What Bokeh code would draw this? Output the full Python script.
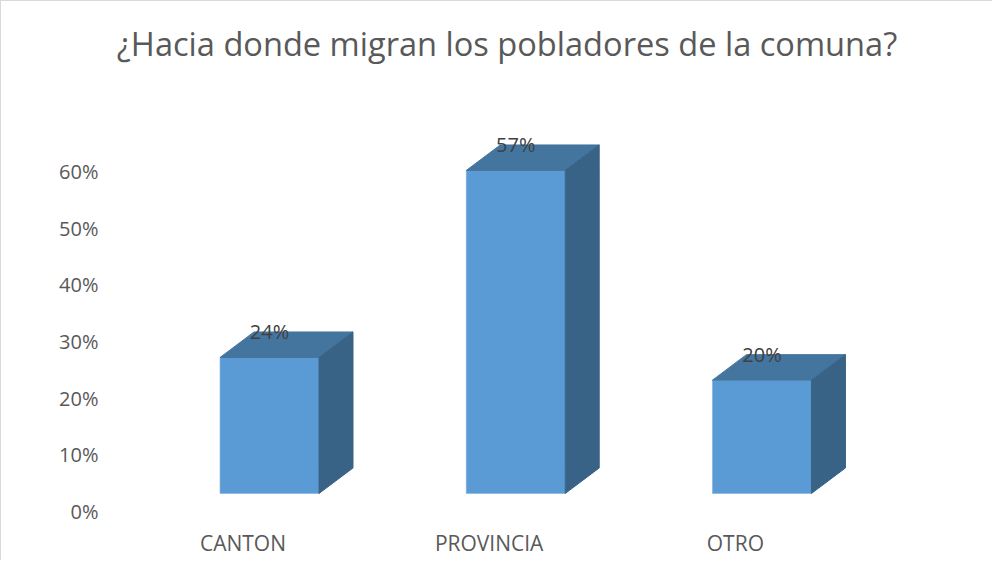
from bokeh.plotting import figure
from bokeh.models import Range1d, FixedTicker, ColumnDataSource, Label
from bokeh.embed import file_html
from bokeh.resources import INLINE
from bokeh.core.properties import value

# ---- data ----
categories = ["CANTON", "PROVINCIA", "OTRO"]
values = [24, 57, 20]            # percent
value_labels = ["24%", "57%", "20%"]
y_ticks = [0, 10, 20, 30, 40, 50, 60]
y_tick_labels = ["0%", "10%", "20%", "30%", "40%", "50%", "60%"]
title_text = "¿Hacia donde migran los pobladores de la comuna?"

# ---- style constants ----
FONT = "Open Sans"
TEXT_COLOR = "#595959"
FRONT = "#5B9BD5"
TOP = "#44759F"
SIDE = "#386387"
HALF_W = 0.201      # half bar width (x units)
DEPTH_X = 0.138     # 3D depth offset in x units
DEPTH_Y = 4.5       # 3D depth offset in y units
BASE = 3.18         # front face floor level (y units)
LABEL_SHIFT = -0.108
TITLE_X = 0.9645    # title centre (x units)
TITLE_Y = 82.5      # title baseline (y units, above the bars)

p = figure(width=991, height=559, frame_width=797, frame_height=520,
           output_backend="svg", toolbar_location=None,
           x_range=Range1d(-0.654, 2.583), y_range=Range1d(-1.941, 89.82),
           min_border_left=107, min_border_right=87, min_border_top=1,
           min_border_bottom=38, background_fill_color="white",
           border_fill_color="white")
p.styles = {"border-left": "1px solid #D9D9D9", "border-top": "1px solid #D9D9D9"}
p.outline_line_color = None
p.grid.visible = False

title = Label(x=TITLE_X, y=TITLE_Y, text=title_text, text_align="center",
              text_baseline="alphabetic", text_font=FONT, text_font_size="32.6px",
              text_color=TEXT_COLOR)
p.add_layout(title)

xs_c = list(range(len(categories)))
tops = [BASE + v for v in values]

front = ColumnDataSource(dict(left=[c - HALF_W for c in xs_c], right=[c + HALF_W for c in xs_c],
                              bottom=[BASE] * len(xs_c), top=tops))
p.quad(left="left", right="right", bottom="bottom", top="top", source=front,
       fill_color=FRONT, line_color="#7FB0DE", line_width=0.6)

top_xs, top_ys, side_xs, side_ys = [], [], [], []
for c, t in zip(xs_c, tops):
    l, r = c - HALF_W, c + HALF_W
    top_xs.append([l, r, r + DEPTH_X, l + DEPTH_X])
    top_ys.append([t, t, t + DEPTH_Y, t + DEPTH_Y])
    side_xs.append([r, r + DEPTH_X, r + DEPTH_X, r])
    side_ys.append([BASE, BASE + DEPTH_Y, t + DEPTH_Y, t])
p.patches(top_xs, top_ys, fill_color=TOP, line_color=TOP)
p.patches(side_xs, side_ys, fill_color=SIDE, line_color=SIDE)

lab = ColumnDataSource(dict(x=xs_c, y=[t + DEPTH_Y for t in tops], text=value_labels))
p.text(x="x", y="y", text="text", source=lab, text_align="center",
       text_baseline="middle", text_font=value(FONT), text_font_size="20px",
       text_color="#404040")

# axes
p.yaxis.ticker = FixedTicker(ticks=y_ticks)
p.yaxis.major_label_overrides = {t: s for t, s in zip(y_ticks, y_tick_labels)}
p.xaxis.ticker = FixedTicker(ticks=[c + LABEL_SHIFT for c in xs_c])
p.xaxis.major_label_overrides = {c + LABEL_SHIFT: n for c, n in zip(xs_c, categories)}
for ax in (p.xaxis, p.yaxis):
    ax.axis_line_color = None
    ax.major_tick_line_color = None
    ax.minor_tick_line_color = None
    ax.major_tick_out = 0
    ax.major_tick_in = 0
    ax.minor_tick_out = 0
    ax.minor_tick_in = 0
    ax.major_label_text_font = FONT
    ax.major_label_text_color = TEXT_COLOR
p.yaxis.major_label_text_font_size = "20px"
p.xaxis.major_label_text_font_size = "21px"
p.yaxis.major_label_standoff = 10
p.xaxis.major_label_standoff = 6

open("out.html", "w").write(file_html(p, INLINE))
